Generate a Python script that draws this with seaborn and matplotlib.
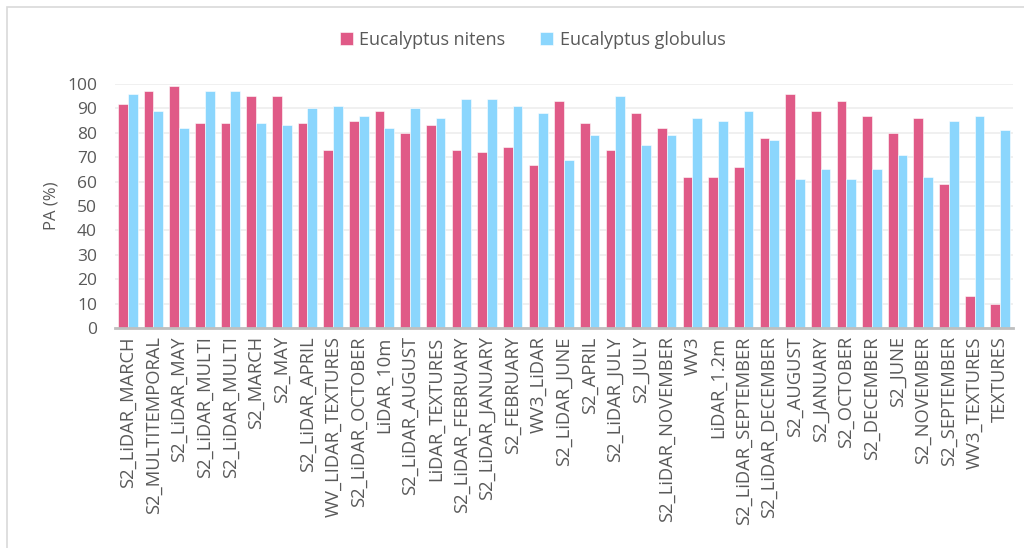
import matplotlib
matplotlib.use("Agg")
import matplotlib.pyplot as plt
from matplotlib.patches import Rectangle
import seaborn as sns
import pandas as pd

categories = [
    "S2_LiDAR_MARCH", "S2_MULTITEMPORAL", "S2_LiDAR_MAY", "S2_LiDAR_MULTI",
    "S2_LiDAR_MULTI", "S2_MARCH", "S2_MAY", "S2_LiDAR_APRIL",
    "WV_LIDAR_TEXTURES", "S2_LiDAR_OCTOBER", "LiDAR_10m", "S2_LiDAR_AUGUST",
    "LiDAR_TEXTURES", "S2_LiDAR_FEBRUARY", "S2_LiDAR_JANUARY", "S2_FEBRUARY",
    "WV3_LiDAR", "S2_LiDAR_JUNE", "S2_APRIL", "S2_LiDAR_JULY", "S2_JULY",
    "S2_LiDAR_NOVEMBER", "WV3", "LiDAR_1.2m", "S2_LiDAR_SEPTEMBER",
    "S2_LiDAR_DECEMBER", "S2_AUGUST", "S2_JANUARY", "S2_OCTOBER",
    "S2_DECEMBER", "S2_JUNE", "S2_NOVEMBER", "S2_SEPTEMBER", "WV3_TEXTURES",
    "TEXTURES",
]
nitens = [92, 97, 99, 84, 84, 95, 95, 84, 73, 85, 89, 80, 83, 73, 72, 74,
          67, 93, 84, 73, 88, 82, 62, 62, 66, 78, 96, 89, 93, 87, 80, 86,
          59, 13, 10]
globulus = [96, 89, 82, 97, 97, 84, 83, 90, 91, 87, 82, 90, 86, 94, 94, 91,
            88, 69, 79, 95, 75, 79, 86, 85, 89, 77, 61, 65, 61, 65, 71, 62,
            85, 87, 81]
series_names = ["Eucalyptus nitens", "Eucalyptus globulus"]
colors = ["#E05A87", "#8BD6FD"]

n = len(categories)
df = pd.DataFrame({
    "slot": list(range(n)) * 2,
    "PA": nitens + globulus,
    "species": [series_names[0]] * n + [series_names[1]] * n,
})

sns.set_theme(style="white")
plt.rcParams["font.family"] = ["Open Sans", "DejaVu Sans"]
text_color = "#595959"

fig = plt.figure(figsize=(10.24, 5.48), dpi=100)
ax = fig.add_axes([0.1123, 0.4015, 0.877, 0.4452])

sns.barplot(data=df, x="slot", y="PA", hue="species", palette=colors,
            width=0.76, gap=0, saturation=1, ax=ax, legend=True,
            edgecolor="white", linewidth=0.4)

ax.set_ylim(0, 100)
ax.set_xlim(-0.5, n - 0.5)
ax.set_yticks(range(0, 101, 10))
ax.yaxis.grid(True, color="#EDEDED", linewidth=1.2)
ax.set_axisbelow(True)
ax.tick_params(axis="y", length=0, labelsize=12.5, colors=text_color, pad=13)
ax.tick_params(axis="x", length=0, labelsize=13.2, colors=text_color, pad=6)
ax.set_xticks(range(n))
ax.set_xticklabels(categories, rotation=90)
ax.set_xlabel("")
ax.set_ylabel("PA (%)", fontsize=12, color=text_color, labelpad=5)

for side in ["top", "right", "left"]:
    ax.spines[side].set_visible(False)
ax.spines["bottom"].set_color("#BFBFBF")
ax.spines["bottom"].set_linewidth(2)

handles, labels = ax.get_legend_handles_labels()
ax.legend_.remove()
fig.legend(handles, labels, loc="center", bbox_to_anchor=(0.52, 0.927),
           ncol=2, frameon=False, fontsize=13, labelcolor=text_color,
           handlelength=0.75, handleheight=0.75, handletextpad=0.35,
           columnspacing=1.9)

# outer chart frame (top and left edges visible)
fig.patches.append(Rectangle((7 / 1024, -0.1), 1.2, 1 - 7 / 548 + 0.1,
                             transform=fig.transFigure, fill=False,
                             edgecolor="#D9D9D9", linewidth=1.2))

fig.savefig("out.png", dpi=100)
